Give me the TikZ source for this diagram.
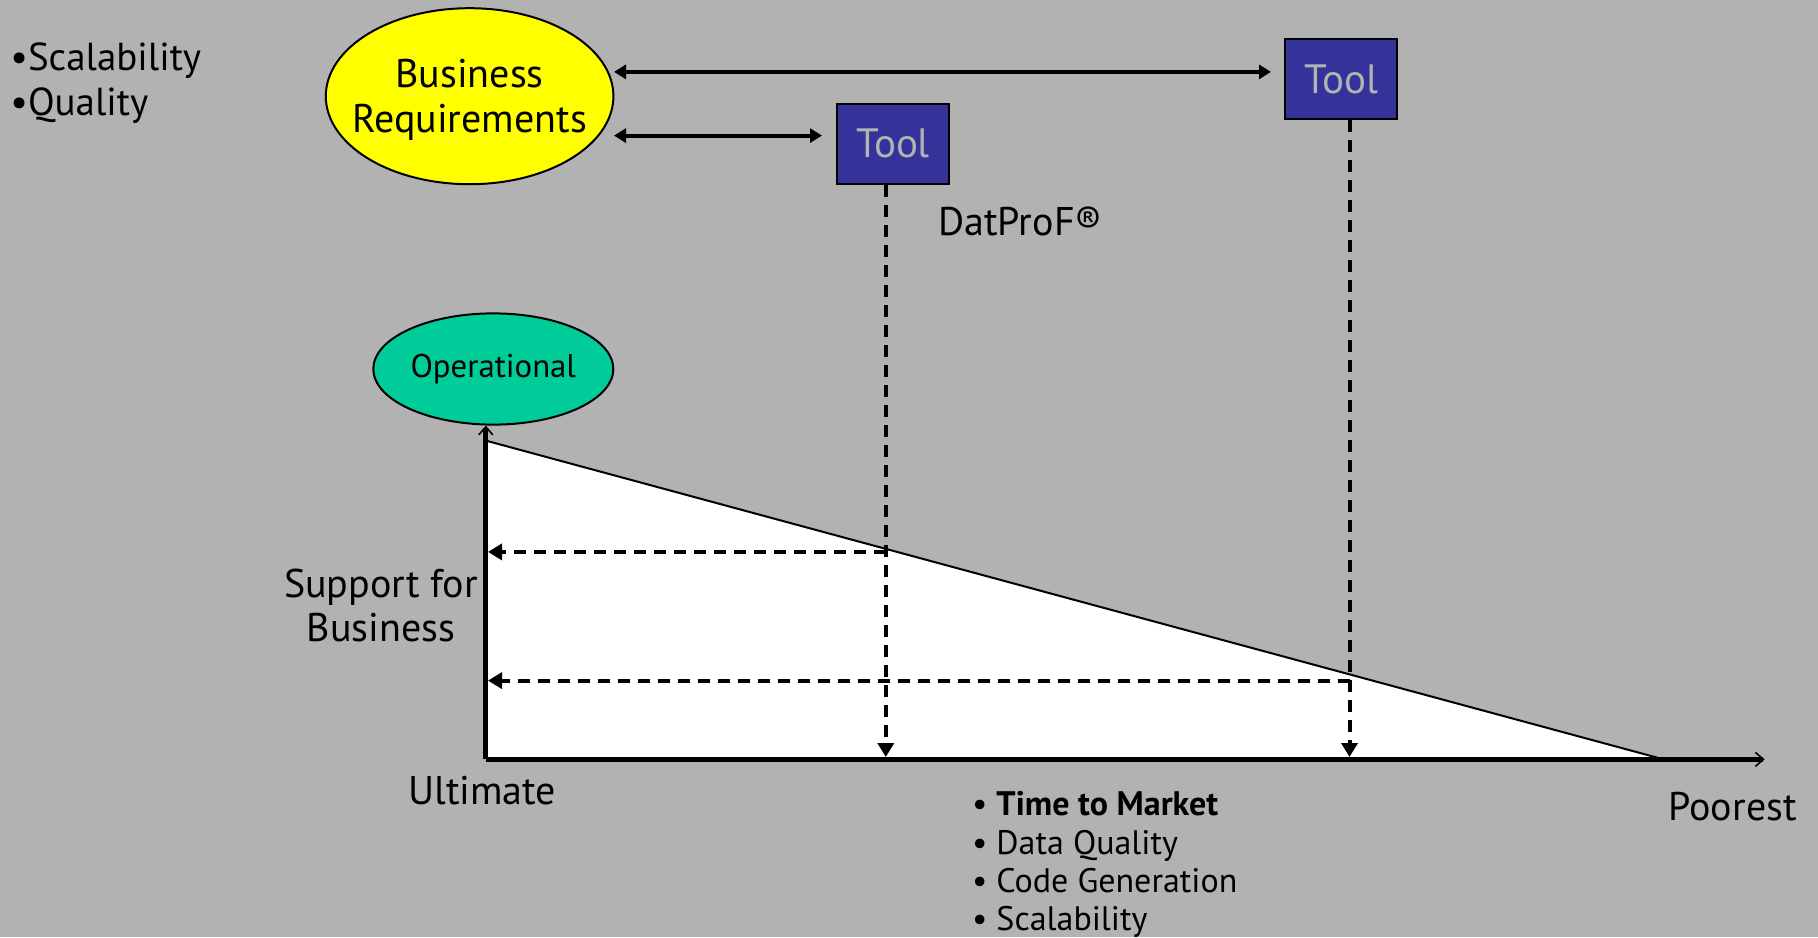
\documentclass[tikz,border=0pt]{standalone}
\usepackage{fontspec}
\setmainfont{PT Sans}
\usetikzlibrary{arrows.meta,shapes.geometric}
\definecolor{bg}{RGB}{178,178,178}
\definecolor{reqyellow}{RGB}{255,255,0}
\definecolor{opgreen}{RGB}{0,204,153}
\definecolor{toolblue}{RGB}{51,51,153}
\definecolor{tooltext}{RGB}{178,178,178}
\tikzset{
  lbl/.style={inner sep=0pt, text height=0.72em, text depth=0.22em},
  bigtxt/.style={lbl, font=\fontsize{20}{22}\selectfont},
  listtxt/.style={lbl, font=\fontsize{17}{19}\selectfont},
  toolbox/.style={draw=black, line width=1pt, fill=toolblue, text=tooltext,
    minimum width=56pt, minimum height=40pt, inner sep=0pt,
    font=\fontsize{20.5}{22}\selectfont},
  link/.style={line width=2pt, {Triangle[length=6pt,width=7pt]}-{Triangle[length=6pt,width=7pt]}},
  guide/.style={line width=2pt, dash pattern=on 6pt off 4pt, -{Triangle[length=7pt,width=8pt]}},
  axis/.style={line width=2.5pt, -{Straight Barb[length=4pt,width=7pt,line width=0.8pt]}},
}
\begin{document}
\begin{tikzpicture}[x=0.5pt,y=-0.5pt]
  \fill[bg] (0,0) rectangle (1818,937);
  \useasboundingbox (0,0) rectangle (1818,937);

  % chart area
  \coordinate (o) at (485.8,759.4);
  \coordinate (top) at (485.8,440.6);
  \coordinate (end) at (1663.7,759.4);
  \coordinate (xend) at (1764.6,759.4);
  \fill[white] (top) -- (end) -- (o) -- cycle;
  \draw[line width=1pt] (top) -- (end);

  % top-left list
  \node[lbl, font=\fontsize{19.5}{22}\selectfont, anchor=west] (s1) at (10,65) {•Scalability};
  \node[lbl, font=\fontsize{19.5}{22}\selectfont, anchor=west] (s2) at (10,110) {•Quality};

  % requirement ellipse and tools
  \node[ellipse, draw=black, line width=1pt, fill=reqyellow, minimum width=143.8pt,
        minimum height=88pt, inner sep=0pt] (br) at (469.6,96.2) {};
  \node[inner sep=0pt, align=center, font=\fontsize{20}{22.5}\selectfont]
        (brt) at (469.6,100) {Business\\Requirements};
  \node[toolbox] (t1) at (893.2,143.5) {Tool};
  \node[toolbox] (t2) at (1341.4,79.4) {Tool};

  \coordinate (a1s) at (614,71.9);
  \coordinate (a1e) at (1271,71.9);
  \coordinate (a2s) at (614,135.6);
  \coordinate (a2e) at (822,135.6);
  \draw[link] (a1s) -- (a1e);
  \draw[link] (a2s) -- (a2e);

  \node[bigtxt, anchor=west] (dp) at (938,230) {DatProF®};

  % operational ellipse
  \node[ellipse, draw=black, line width=1pt, fill=opgreen, minimum width=120pt,
        minimum height=55.6pt, inner sep=0pt,
        font=\fontsize{16.4}{18}\selectfont] (op) at (493.3,369) {Operational};

  % dashed projections
  \coordinate (v1) at (885.8,757);
  \coordinate (v2) at (1349.5,757);
  \coordinate (h1) at (885.8,551.9);
  \coordinate (h2) at (1349.5,680.6);
  \draw[guide] (v1 |- t1.south) -- (v1);
  \draw[guide] (v2 |- t2.south) -- (v2);
  \draw[guide] (h1) -- (488,551.9);
  \draw[guide] (h2) -- (488,680.6);

  % axes
  \draw[axis] (o) -- (o |- op.south);
  \draw[axis] (o) -- (xend);

  % axis labels
  \node[bigtxt, align=center] (sup) at (381,636) {Support for\\Business};
  \node[bigtxt] (ult) at (482.3,799) {Ultimate};
  \node[bigtxt] (poor) at (1732.6,815) {Poorest};

  % benefit list
  \node[listtxt, anchor=west] (b1) at (971.6,810.5) {• \textbf{Time to Market}};
  \node[listtxt, anchor=west] (b2) at (971.6,849.5) {• Data Quality};
  \node[listtxt, anchor=west] (b3) at (971.6,887.5) {• Code Generation};
  \node[listtxt, anchor=west] (b4) at (971.6,925.5) {• Scalability};
\end{tikzpicture}
\end{document}
